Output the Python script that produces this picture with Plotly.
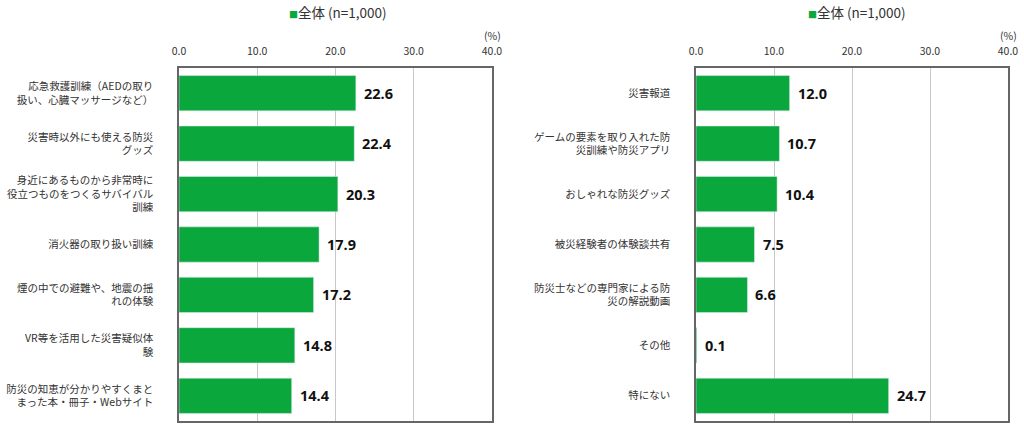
import plotly.graph_objects as go

left_labels = [
    "応急救護訓練（AEDの取り<br>扱い、心臓マッサージなど）",
    "災害時以外にも使える防災<br>グッズ",
    "身近にあるものから非常時に<br>役立つものをつくるサバイバル<br>訓練",
    "消火器の取り扱い訓練",
    "煙の中での避難や、地震の揺<br>れの体験",
    "VR等を活用した災害疑似体<br>験",
    "防災の知恵が分かりやすくまと<br>まった本・冊子・Webサイト",
]
left_values = [22.6, 22.4, 20.3, 17.9, 17.2, 14.8, 14.4]

right_labels = [
    "災害報道",
    "ゲームの要素を取り入れた防<br>災訓練や防災アプリ",
    "おしゃれな防災グッズ",
    "被災経験者の体験談共有",
    "防災士などの専門家による防<br>災の解説動画",
    "その他",
    "特にない",
]
right_values = [12.0, 10.7, 10.4, 7.5, 6.6, 0.1, 24.7]

tick_vals = [0, 10, 20, 30, 40]
tick_text = ["0.0", "10.0", "20.0", "30.0", "40.0"]
series_name = "全体 (n=1,000)"

GREEN = "#0aa83c"
FONT = "Noto Sans CJK JP"

fig = go.Figure()
fig.add_trace(go.Bar(x=left_values, y=left_labels, orientation="h", marker_color=GREEN,
                     width=0.7, xaxis="x", yaxis="y", showlegend=False, name=series_name))
fig.add_trace(go.Bar(x=right_values, y=right_labels, orientation="h", marker_color=GREEN,
                     width=0.7, xaxis="x2", yaxis="y2", showlegend=False, name=series_name))

ydom = [1 - 421 / 430, 1 - 68 / 430]
xdom1 = [179 / 1024, 492 / 1024]
xdom2 = [696 / 1024, 1008 / 1024]

axis_common = dict(range=[0, 40], tickvals=tick_vals, ticktext=tick_text, side="top",
                   showgrid=True, gridcolor="#c8c8c8", gridwidth=1, zeroline=False,
                   showline=True, linecolor="#666666", linewidth=1.5, mirror=True,
                   ticks="", ticklabelstandoff=7, automargin=False,
                   tickfont=dict(family=FONT, size=10.5, color="#333333"), fixedrange=True)
yaxis_common = dict(autorange="reversed", showline=True, linecolor="#666666", linewidth=1.5,
                    mirror=True, ticks="", ticklabelstandoff=22, showgrid=False,
                    automargin=False,
                    tickfont=dict(family=FONT, size=10.5, color="#333333"), fixedrange=True)

fig.update_layout(
    width=1024, height=430,
    margin=dict(l=0, r=0, t=0, b=0),
    paper_bgcolor="white", plot_bgcolor="white",
    bargap=0.3,
    xaxis=dict(domain=xdom1, anchor="y", **axis_common),
    yaxis=dict(domain=ydom, anchor="x", **yaxis_common),
    xaxis2=dict(domain=xdom2, anchor="y2", **axis_common),
    yaxis2=dict(domain=ydom, anchor="x2", **yaxis_common),
    font=dict(family=FONT),
)

annotations = []
for labels, values, xr, yr in [(left_labels, left_values, "x", "y"),
                               (right_labels, right_values, "x2", "y2")]:
    for lab, v in zip(labels, values):
        annotations.append(dict(x=v, y=lab, xref=xr, yref=yr, text=f"<b>{v:.1f}</b>",
                                showarrow=False, xanchor="left", xshift=6,
                                font=dict(family="Open Sans", size=14.5, color="#111111")))

for xd in (xdom1, xdom2):
    annotations.append(dict(x=xd[1], y=1 - 36 / 430, xref="paper", yref="paper", text="(%)",
                            showarrow=False, xanchor="center", yanchor="middle",
                            font=dict(family=FONT, size=10.5, color="#333333")))

for lx in (287, 806):
    annotations.append(dict(x=lx / 1024, y=1 - 12 / 430, xref="paper", yref="paper",
                            text=f"<span style='color:{GREEN};font-size:9px'>■</span>{series_name}",
                            showarrow=False, xanchor="left", yanchor="middle",
                            font=dict(family=FONT, size=13.5, color="#333333")))

fig.update_layout(annotations=annotations)
fig.write_html("out.html")
